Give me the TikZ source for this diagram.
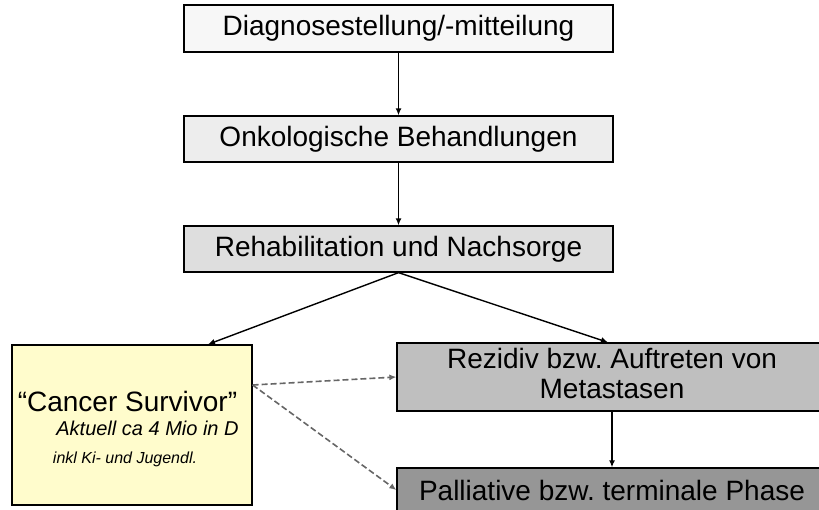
\documentclass[tikz,border=0pt]{standalone}
\usepackage{fontspec}
\setmainfont{Liberation Sans}
\usetikzlibrary{arrows.meta}
\frenchspacing

\begin{document}
\begin{tikzpicture}[x=1pt, y=-1pt, >={Latex[length=7pt,width=6pt]},
    box/.style={rectangle, draw, line width=1.3pt, inner sep=0pt},
    big/.style={font=\fontsize{28}{30}\selectfont},
    link/.style={->, line width=1.4pt},
    maybe/.style={->, line width=1.6pt, black!60, dash pattern=on 6pt off 3pt}]
    \useasboundingbox (0,0) rectangle (819,510);
    \clip (0,0) rectangle (819,510);

    \node[box, fill=black!3, minimum width=429pt, minimum height=47pt] (A) at (398.5, 28.5) {};
    \node[box, fill=black!7, minimum width=429pt, minimum height=46pt] (B) at (398.5, 139) {};
    \node[box, fill=black!13, minimum width=429pt, minimum height=46pt] (C) at (398.5, 249) {};
    \node[box, fill=yellow!20, minimum width=240pt, minimum height=160pt] (D) at (132, 425) {};
    \node[box, fill=black!25, minimum width=430pt, minimum height=68pt] (E) at (612, 377) {};
    \node[box, fill=black!41, minimum width=430pt, minimum height=44pt] (F) at (612, 490) {};

    % Pfeile
    \draw[link] (A) -- (B);
    \draw[link] (B) -- (C);
    \draw[link] (C.south) -- ([xshift=76pt]D.north);
    \draw[link] (C.south) -- ([xshift=-4pt]E.north);
    \draw[link] (E) -- (F);
    \draw[maybe] ([yshift=40pt]D.east) -- (E.west);
    \draw[maybe] ([yshift=40pt]D.east) -- (F.west);

    % Texte
    \node[big] at (398.5, 28) {Diagnosestellung/-mitteilung};
    \node[big] at (398.5, 139) {Onkologische Behandlungen};
    \node[big] at (398.5, 249) {Rehabilitation und Nachsorge};
    \node[big, align=center] at (612, 373) {Rezidiv bzw. Auftreten von\\ Metastasen};
    \node[big] at (612, 490) {Palliative bzw. terminale Phase};
    \node[big] at (127.5, 401) {“Cancer Survivor”};
    \node[font=\fontsize{20}{22}\selectfont\itshape] at (147.5, 428) {Aktuell ca 4 Mio in D};
    \node[font=\fontsize{16}{18}\selectfont\itshape] at (125, 459) {inkl Ki- und Jugendl.};

\end{tikzpicture}
\end{document}
